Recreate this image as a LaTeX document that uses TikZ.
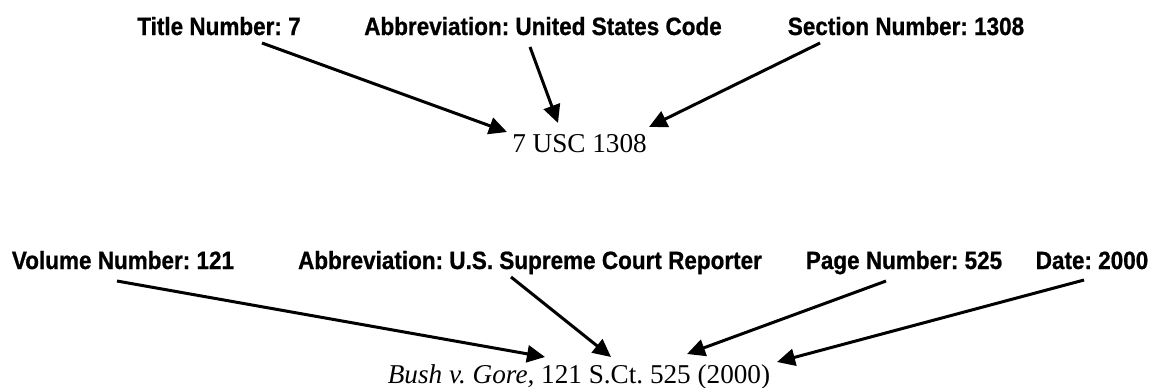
\documentclass[tikz,border=0pt]{standalone}
\usepackage{fontspec}
\setmainfont{Liberation Serif}
\newfontfamily\labfont{Liberation Sans}[FakeStretch=0.9,FakeBold=0.8]
\usetikzlibrary{arrows.meta}
\frenchspacing
\begin{document}
\begin{tikzpicture}[x=0.5pt,y=-0.5pt,
  lab/.style={inner sep=0pt,anchor=base,font=\labfont\bfseries\fontsize{12.5pt}{14pt}\selectfont},
  cite/.style={inner sep=0pt,anchor=base,font=\fontsize{13.6pt}{16pt}\selectfont},
  arr/.style={line width=1.5pt,-{Triangle[length=9pt,width=8.5pt]}}]
\useasboundingbox (0,0) rectangle (1159,387);
% top example
\node[lab] (tnum) at (219,35) {Title Number: 7};
\node[lab] (tabb) at (543,35) {Abbreviation: United States Code};
\node[lab] (tsec) at (906,35) {Section Number: 1308};
\node[cite] (usc) at (579.5,152) {7 USC 1308};
\coordinate (a1s) at (262,43);
\coordinate (a1e) at (507,132);
\coordinate (a2s) at (530,47);
\coordinate (a2e) at (558,123);
\coordinate (a3s) at (820,43);
\coordinate (a3e) at (649,127);
\draw[arr] (a1s) -- (a1e);
\draw[arr] (a2s) -- (a2e);
\draw[arr] (a3s) -- (a3e);
% bottom example
\node[lab] (bvol) at (123,269) {Volume Number: 121};
\node[lab] (babb) at (530,269) {Abbreviation: U.S. Supreme Court Reporter};
\node[lab] (bpag) at (904,269) {Page Number: 525};
\node[lab] (bdat) at (1092,269) {Date: 2000};
\node[cite] (sct) at (579,383) {\textit{Bush v. Gore,} 121 S.Ct. 525 (2000)};
\coordinate (b1s) at (117,281);
\coordinate (b1e) at (545,357);
\coordinate (b2s) at (511,277);
\coordinate (b2e) at (611,357);
\coordinate (b3s) at (886,281);
\coordinate (b3e) at (687,354);
\coordinate (b4s) at (1084,280);
\coordinate (b4e) at (777,362);
\draw[arr] (b1s) -- (b1e);
\draw[arr] (b2s) -- (b2e);
\draw[arr] (b3s) -- (b3e);
\draw[arr] (b4s) -- (b4e);
\end{tikzpicture}
\end{document}
